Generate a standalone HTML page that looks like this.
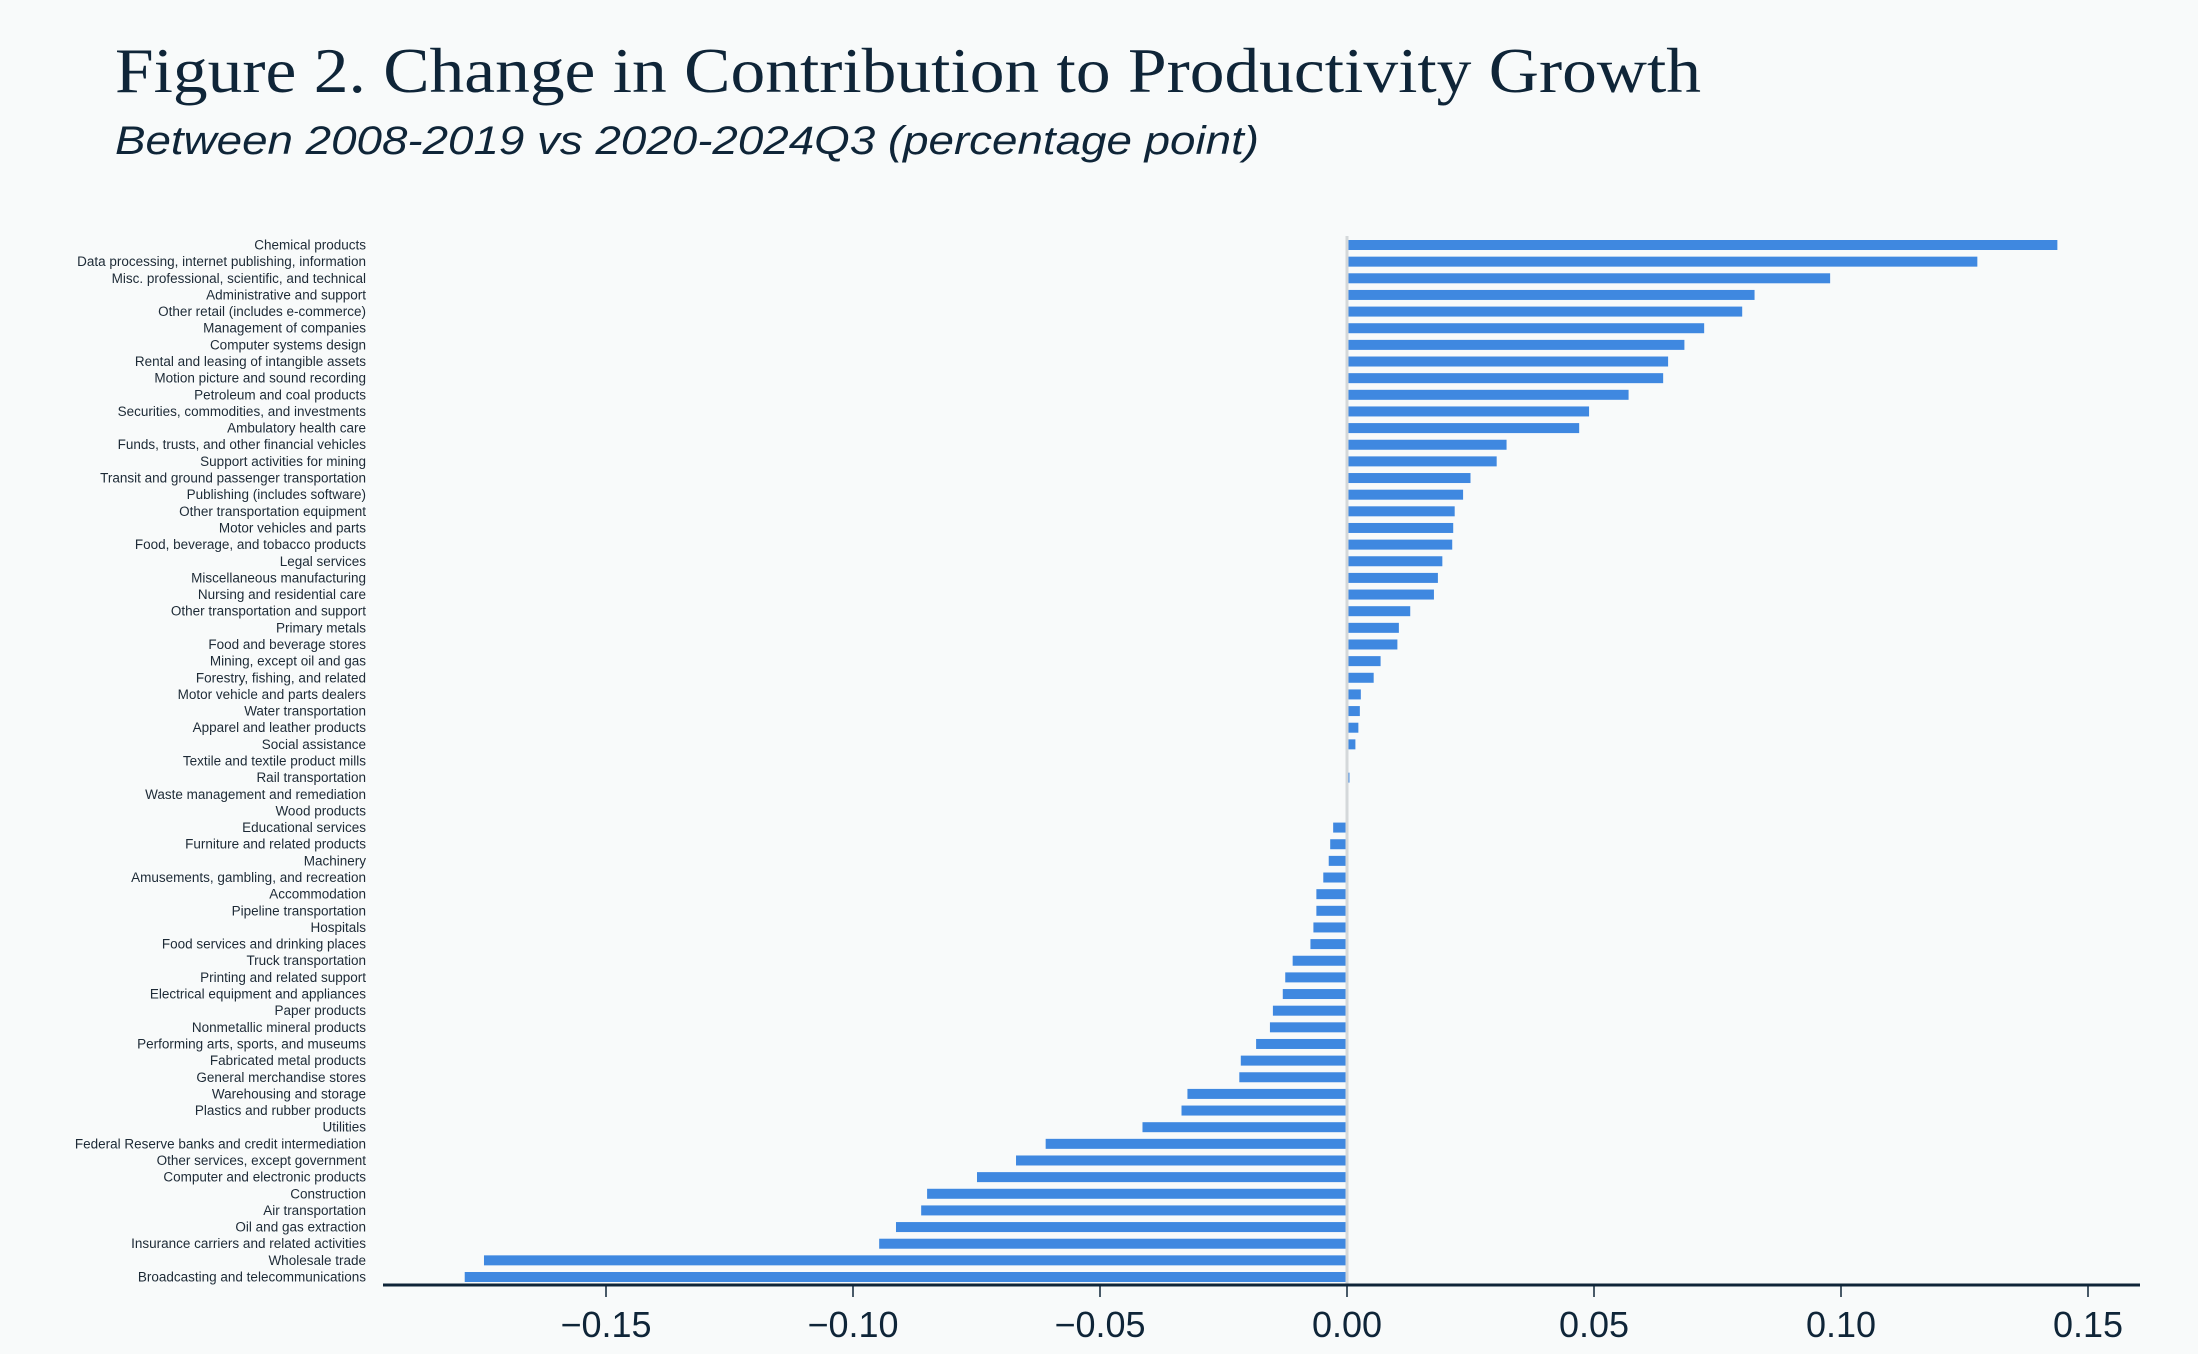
<!DOCTYPE html>
<html><head><meta charset="utf-8"><style>
body{margin:0;background:#f8fafa;width:2198px;height:1354px;overflow:hidden;}
svg{display:block}
</style></head><body>
<svg id="chart" width="2198" height="1354">
<text x="115" y="92" font-family="Liberation Serif, serif" font-size="64" fill="#0f2538" textLength="1586" lengthAdjust="spacingAndGlyphs">Figure 2. Change in Contribution to Productivity Growth</text>
<text x="115" y="154" font-family="Liberation Sans, sans-serif" font-style="italic" font-size="40" fill="#0f2538" textLength="1144" lengthAdjust="spacingAndGlyphs">Between 2008-2019 vs 2020-2024Q3 (percentage point)</text>
<g id="bars"></g>
</svg>
<script>
const categories=["Chemical products","Data processing, internet publishing, information","Misc. professional, scientific, and technical","Administrative and support","Other retail (includes e-commerce)","Management of companies","Computer systems design","Rental and leasing of intangible assets","Motion picture and sound recording","Petroleum and coal products","Securities, commodities, and investments","Ambulatory health care","Funds, trusts, and other financial vehicles","Support activities for mining","Transit and ground passenger transportation","Publishing (includes software)","Other transportation equipment","Motor vehicles and parts","Food, beverage, and tobacco products","Legal services","Miscellaneous manufacturing","Nursing and residential care","Other transportation and support","Primary metals","Food and beverage stores","Mining, except oil and gas","Forestry, fishing, and related","Motor vehicle and parts dealers","Water transportation","Apparel and leather products","Social assistance","Textile and textile product mills","Rail transportation","Waste management and remediation","Wood products","Educational services","Furniture and related products","Machinery","Amusements, gambling, and recreation","Accommodation","Pipeline transportation","Hospitals","Food services and drinking places","Truck transportation","Printing and related support","Electrical equipment and appliances","Paper products","Nonmetallic mineral products","Performing arts, sports, and museums","Fabricated metal products","General merchandise stores","Warehousing and storage","Plastics and rubber products","Utilities","Federal Reserve banks and credit intermediation","Other services, except government","Computer and electronic products","Construction","Air transportation","Oil and gas extraction","Insurance carriers and related activities","Wholesale trade","Broadcasting and telecommunications"];
const values=[0.1438,0.1276,0.0978,0.0825,0.080,0.0723,0.0683,0.065,0.064,0.057,0.049,0.047,0.0323,0.0303,0.025,0.0235,0.0218,0.0215,0.0213,0.0193,0.0184,0.0176,0.0128,0.0105,0.0102,0.0068,0.0054,0.0028,0.0026,0.0023,0.0017,0.0003,0.0005,0,0,-0.0028,-0.0034,-0.0037,-0.0048,-0.0062,-0.0062,-0.0068,-0.0074,-0.011,-0.0125,-0.013,-0.015,-0.0156,-0.0184,-0.0215,-0.0218,-0.0323,-0.0335,-0.0414,-0.061,-0.067,-0.0749,-0.085,-0.0862,-0.0913,-0.0947,-0.1747,-0.1786];
const ticks=[-0.15,-0.10,-0.05,0.00,0.05,0.10,0.15];
const tickLabels=["\u22120.15","\u22120.10","\u22120.05","0.00","0.05","0.10","0.15"];
const NS="http://www.w3.org/2000/svg";
const g=document.getElementById('bars');
const x=v=>1347+v*(247/0.05);
const y=i=>245+i*(1277-245)/(categories.length-1);
function mk(t,a){const e=document.createElementNS(NS,t);for(const k in a)e.setAttribute(k,a[k]);g.appendChild(e);return e;}
categories.forEach((c,i)=>{
  const v=values[i];
  const r=mk('rect',{x:Math.min(x(0),x(v)),y:y(i)-5,width:Math.abs(x(v)-x(0)),height:10,fill:'#3f88e0'});
  
  
  const t=mk('text',{x:366,y:y(i)+4.5,'text-anchor':'end','font-family':'Liberation Sans, sans-serif','font-size':13.5,fill:'#1d2a36'});
  t.textContent=c;
  
  
});
const z=mk('line',{x1:x(0),x2:x(0),y1:236,y2:1285,stroke:'#d4d8da','stroke-width':3});


const ax=mk('line',{x1:383,x2:2140,y1:1285,y2:1285,stroke:'#0f2538','stroke-width':3});


ticks.forEach((tv,i)=>{
  const l=mk('line',{x1:x(tv),x2:x(tv),y1:1285,y2:1297,stroke:'#0f2538','stroke-width':1.5});
  
  
  const t=mk('text',{x:x(tv),y:1337,'text-anchor':'middle','font-family':'Liberation Sans, sans-serif','font-size':36,fill:'#0f2538'});
  t.textContent=tickLabels[i];
  
  
});
</script>
</body></html>
